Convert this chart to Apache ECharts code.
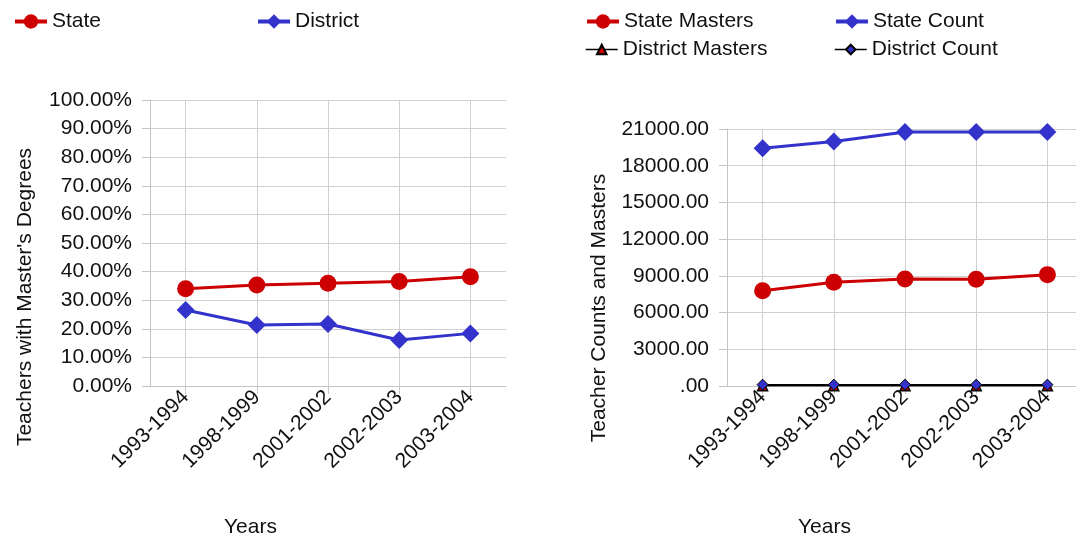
<!DOCTYPE html>
<html>
<head>
<meta charset="utf-8">
<script src="https://cdn.jsdelivr.net/npm/echarts@6/dist/echarts.min.js"></script>
<style>
html,body{margin:0;padding:0;background:#fff;overflow:hidden;width:1076px;height:542px;}
#chart{width:1092px;height:542px;}
</style>
</head>
<body>
<div id="chart"></div>
<script>
const categories = ['1993-1994', '1998-1999', '2001-2002', '2002-2003', '2003-2004'];
// Left chart: percent of teachers with master's degrees
const statePct = [34.0, 35.3, 35.9, 36.5, 38.2];
const districtPct = [26.6, 21.3, 21.7, 16.1, 18.4];
// Right chart: counts
const stateMasters = [7790, 8470, 8740, 8720, 9100];
const stateCount = [19430, 19970, 20760, 20760, 20760];
const districtMasters = [30, 30, 30, 30, 30];
const districtCount = [110, 110, 110, 110, 110];

const FONT = '"Liberation Sans", Arial, sans-serif';
const FS = 21;
const TXT = '#111';
const GRID = '#d0d0d0';
const RED = '#cc0000';
const BLUE = '#3333cc';

const chart = echarts.init(document.getElementById('chart'), null, {renderer: 'canvas'});

function xAxisDef(gridIndex) {
  return {
    type: 'category', gridIndex, data: categories, boundaryGap: true,
    axisLine: {show: true, lineStyle: {color: '#c4c4c4', width: 1}},
    axisTick: {show: true, alignWithLabel: true, length: 8, lineStyle: {color: '#c4c4c4'}},
    splitLine: {show: true, alignWithLabel: true, lineStyle: {color: GRID, width: 1}},
    axisLabel: {rotate: 45, margin: 8, color: TXT, fontFamily: FONT, fontSize: FS, interval: 0}
  };
}

function legendDef(name, left, top, lw, ih) {
  return {data: [name], left, top, itemWidth: 32, itemHeight: ih,
    lineStyle: {width: lw},
    textStyle: {fontFamily: FONT, fontSize: FS, color: TXT}};
}

const option = {
  animation: false,
  backgroundColor: '#fff',
  textStyle: {fontFamily: FONT},
  legend: [
    legendDef('State', 8, 6, 4, 18),
    legendDef('District', 251, 6, 4, 18),
    legendDef('State Masters', 580, 6, 4, 18),
    legendDef('State Count', 829, 6, 4, 18),
    legendDef('District Masters', 580, 34, 1.5, 12),
    legendDef('District Count', 829, 34, 1.5, 12)
  ],
  grid: [
    {left: 150, top: 100, width: 356, height: 286},
    {left: 727, top: 129, width: 356, height: 257}
  ],
  xAxis: [xAxisDef(0), xAxisDef(1)],
  yAxis: [
    {type: 'value', gridIndex: 0, min: 0, max: 100, interval: 10,
     axisLine: {show: true, lineStyle: {color: '#c4c4c4'}},
     axisTick: {show: true, length: 8, lineStyle: {color: '#c4c4c4'}},
     splitLine: {show: true, lineStyle: {color: GRID}},
     axisLabel: {margin: 18, color: TXT, fontFamily: FONT, fontSize: FS,
       formatter: v => v.toFixed(2) + '%'}},
    {type: 'value', gridIndex: 1, min: 0, max: 21000, interval: 3000,
     axisLine: {show: true, lineStyle: {color: '#c4c4c4'}},
     axisTick: {show: true, length: 8, lineStyle: {color: '#c4c4c4'}},
     splitLine: {show: true, lineStyle: {color: GRID}},
     axisLabel: {margin: 18, color: TXT, fontFamily: FONT, fontSize: FS,
       formatter: v => v === 0 ? '.00' : v.toFixed(2)}}
  ],
  graphic: [
    {type: 'text', left: 224, top: 517, style: {text: 'Years', font: FS + 'px ' + FONT, fill: TXT}},
    {type: 'text', left: 798, top: 517, style: {text: 'Years', font: FS + 'px ' + FONT, fill: TXT}},
    {type: 'text', x: 25, y: 297, rotation: Math.PI / 2,
     style: {text: "Teachers with Master's Degrees", font: FS + 'px ' + FONT, fill: TXT, align: 'center', verticalAlign: 'middle'}},
    {type: 'text', x: 599, y: 308, rotation: Math.PI / 2,
     style: {text: 'Teacher Counts and Masters', font: FS + 'px ' + FONT, fill: TXT, align: 'center', verticalAlign: 'middle'}}
  ],
  series: [
    {name: 'State', type: 'line', xAxisIndex: 0, yAxisIndex: 0, data: statePct,
     symbol: 'circle', symbolSize: 17, color: RED, lineStyle: {color: RED, width: 3},
     itemStyle: {color: RED}},
    {name: 'District', type: 'line', xAxisIndex: 0, yAxisIndex: 0, data: districtPct,
     symbol: 'diamond', symbolSize: 18, color: BLUE, lineStyle: {color: BLUE, width: 3},
     itemStyle: {color: BLUE}},
    {name: 'State Masters', type: 'line', xAxisIndex: 1, yAxisIndex: 1, data: stateMasters,
     symbol: 'circle', symbolSize: 17, color: RED, lineStyle: {color: RED, width: 3},
     itemStyle: {color: RED}},
    {name: 'State Count', type: 'line', xAxisIndex: 1, yAxisIndex: 1, data: stateCount,
     symbol: 'diamond', symbolSize: 18, color: BLUE, lineStyle: {color: BLUE, width: 3},
     itemStyle: {color: BLUE}},
    {name: 'District Masters', type: 'line', xAxisIndex: 1, yAxisIndex: 1, data: districtMasters,
     symbol: 'triangle', symbolSize: 10, color: RED, lineStyle: {color: '#000', width: 1.5},
     itemStyle: {color: RED, borderColor: '#000', borderWidth: 1.5}},
    {name: 'District Count', type: 'line', xAxisIndex: 1, yAxisIndex: 1, data: districtCount,
     symbol: 'diamond', symbolSize: 11, color: BLUE, lineStyle: {color: '#000', width: 1.5},
     itemStyle: {color: BLUE, borderColor: '#000', borderWidth: 1}}
  ]
};
chart.setOption(option);
</script>
</body>
</html>
